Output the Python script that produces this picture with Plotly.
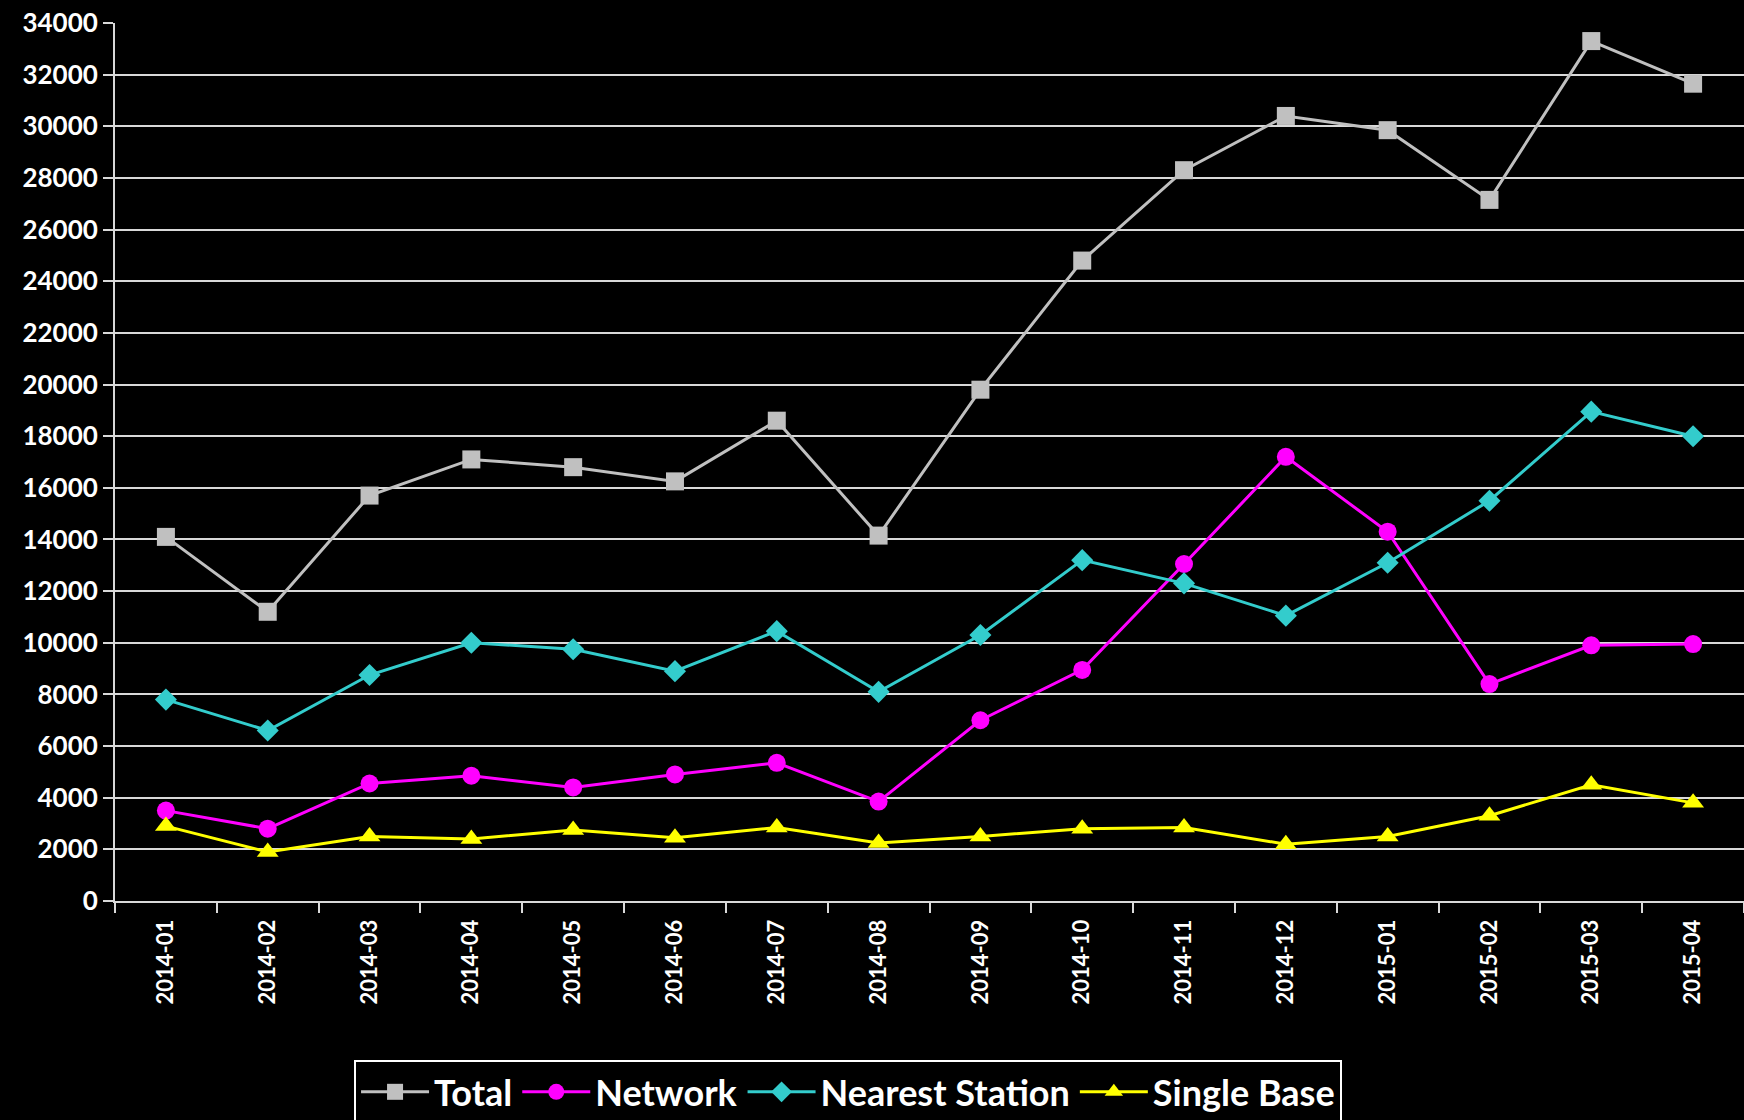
import plotly.graph_objects as go

months = ["2014-01", "2014-02", "2014-03", "2014-04", "2014-05", "2014-06", "2014-07", "2014-08",
          "2014-09", "2014-10", "2014-11", "2014-12", "2015-01", "2015-02", "2015-03", "2015-04"]
total = [14100, 11200, 15700, 17100, 16800, 16250, 18600, 14150,
         19800, 24800, 28300, 30400, 29850, 27150, 33300, 31650]
network = [3500, 2800, 4550, 4850, 4400, 4900, 5350, 3850,
           7000, 8950, 13050, 17200, 14300, 8400, 9900, 9950]
nearest = [7800, 6600, 8750, 10000, 9750, 8900, 10450, 8100,
           10300, 13200, 12300, 11050, 13100, 15500, 18950, 18000]
single = [2900, 1900, 2500, 2400, 2750, 2450, 2850, 2250,
          2500, 2800, 2850, 2200, 2500, 3300, 4500, 3800]

y_ticks = list(range(0, 34001, 2000))

series = [
    ("Total", total, "#C0C0C0", "square", 18),
    ("Network", network, "#FF00FF", "circle", 18),
    ("Nearest Station", nearest, "#33CCCC", "diamond", 17),
    ("Single Base", single, "#FFFF00", "triangle-up", 19),
]

fig = go.Figure()
for name, vals, col, sym, sz in series:
    fig.add_trace(go.Scatter(
        x=months, y=vals, name=name, mode="lines+markers",
        line=dict(color=col, width=3),
        marker=dict(symbol=sym, size=sz, color=col),
    ))

font_family = "Lato"
fig.update_layout(
    width=1744, height=1120,
    paper_bgcolor="black", plot_bgcolor="black",
    margin=dict(l=115, r=0, t=23, b=219, autoexpand=False),
    font=dict(family=font_family, color="white", size=22, weight="bold"),
    showlegend=True,
    legend=dict(
        orientation="h", x=0.45, xanchor="center", y=-0.181, yanchor="top",
        bgcolor="black", bordercolor="white", borderwidth=2,
        font=dict(family=font_family, size=36, color="white", weight="bold"),
        itemwidth=68, tracegroupgap=0,
    ),
    xaxis=dict(
        type="category", categoryorder="array", categoryarray=months,
        tickangle=-90, tickson="boundaries", ticks="outside", ticklen=10,
        tickcolor="#D9D9D9", tickwidth=2, ticklabelstandoff=8,
        showline=True, linecolor="#D9D9D9", linewidth=2,
        showgrid=False, tickfont=dict(size=22, color="white", weight="bold"),
        range=[-0.5, 15.5],
    ),
    yaxis=dict(
        range=[0, 34000], tickvals=y_ticks, ticktext=[str(v) for v in y_ticks],
        ticks="outside", ticklen=10, tickcolor="#D9D9D9", tickwidth=2,
        showline=True, linecolor="#D9D9D9", linewidth=2,
        showgrid=True, gridcolor="#D9D9D9", gridwidth=2,
        zeroline=False, tickfont=dict(size=26, color="white", weight="bold"),
    ),
)

fig.write_html(
    "out.html",
    config={"displayModeBar": False},
    post_script="document.body.style.margin='0';document.body.style.background='black';",
)
